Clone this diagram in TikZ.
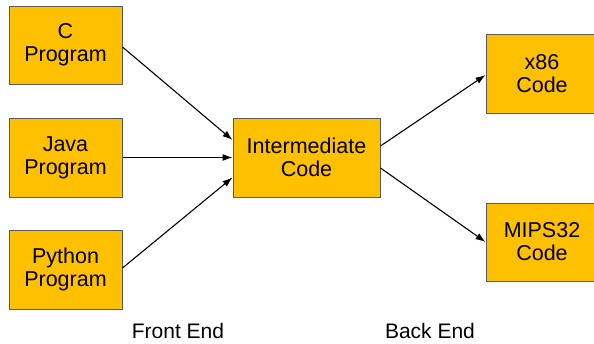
\documentclass[tikz,border=0pt]{standalone}
\usepackage{fontspec}
\setmainfont{Liberation Sans}
\usetikzlibrary{arrows.meta}
\definecolor{boxfill}{HTML}{FFC000}
\definecolor{boxline}{HTML}{5A5A5A}
\begin{document}
\begin{tikzpicture}[x=1pt,y=-1pt,
  blk/.style={draw=boxline,line width=1pt,fill=boxfill,minimum width=113pt,minimum height=78pt,
    inner sep=0pt,align=center,font=\fontsize{21.5}{23}\selectfont},
  conn/.style={line width=1.1pt,-{Latex[length=10pt,width=7pt]}},
  lbl/.style={inner sep=0pt,anchor=base,font=\fontsize{21}{23}\selectfont}]
\useasboundingbox (0,0) rectangle (594,343);
\clip (0,0) rectangle (594,343);
\node[blk] (c) at (65.5,45) {C\\Program};
\node[blk,minimum height=79pt] (java) at (65.5,157.5) {Java\\Program};
\node[blk,minimum height=79pt] (python) at (65.5,269.5) {Python\\Program};
\node[blk,minimum width=147pt,minimum height=79pt] (mid) at (306.5,157.5) {Intermediate\\Code};
\node[blk,minimum width=112pt,minimum height=79pt] (x86) at (542,73.5) {x86\\Code};
\node[blk,minimum width=112pt] (mips) at (542,242) {MIPS32\\Code};
\node[lbl] (fe) at (178,338.5) {Front End};
\node[lbl] (be) at (430,338.5) {Back End};
\draw[conn] ([yshift=-2pt]c.east) -- ([yshift=17.5pt]mid.west);
\draw[conn] (java.east) -- (mid.west);
\draw[conn] ([yshift=1.5pt]python.east) -- ([yshift=-20pt]mid.west);
\draw[conn] ([yshift=11.5pt]mid.east) -- ([yshift=-1.5pt]x86.west);
\draw[conn] ([yshift=-10.5pt]mid.east) -- (mips.west);
\end{tikzpicture}
\end{document}
